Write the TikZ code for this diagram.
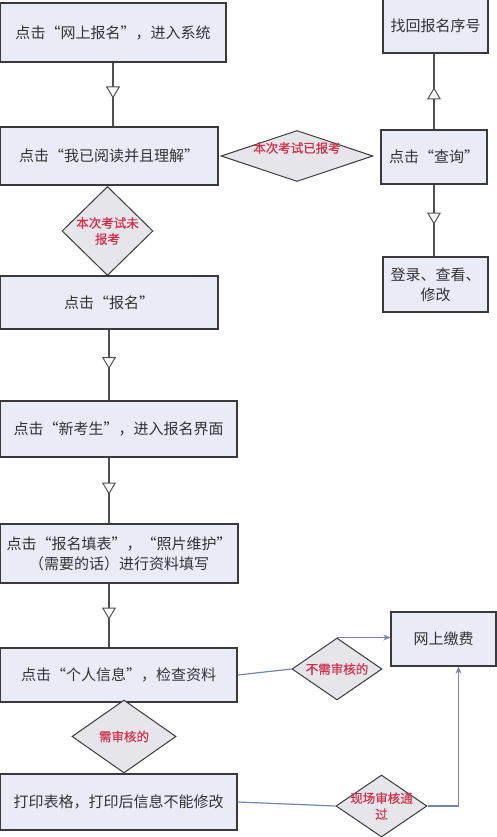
\documentclass[tikz,border=0pt]{standalone}
\usepackage{fontspec}
\newfontfamily\cjk{Noto Sans CJK SC}
\newfontfamily\cjkmark[FakeBold=0.6]{Noto Sans CJK SC}
\usepackage{tikz}
\usetikzlibrary{shapes.geometric}
\usetikzlibrary{arrows.meta, decorations.markings}
\definecolor{boxfill}{HTML}{E9ECF6}
\definecolor{boxline}{HTML}{3A3A3A}
\definecolor{diamfill}{HTML}{E6E6EA}
\definecolor{choicered}{HTML}{D2304E}
\definecolor{textgray}{HTML}{333333}
\definecolor{linegray}{HTML}{505050}
\definecolor{paylink}{HTML}{7484AE}
\begin{document}
\begin{tikzpicture}[x=1pt,y=-1pt,
  stepbox/.style={rectangle,draw=boxline,fill=boxfill,line width=1.3pt,inner sep=0pt,text=textgray,align=center,font=\cjk\fontsize{15}{20}\selectfont},
  choice/.style={diamond,draw=boxline,fill=diamfill,line width=1pt,inner sep=0pt},
  choicetext/.style={text=choicered,align=center,font=\cjkmark\fontsize{12.5}{16}\selectfont},
  flow/.style={draw=linegray,line width=1.3pt,postaction={decorate},
    decoration={markings,mark=at position 0.5 with {\arrow[xshift=4pt]{Triangle[width=14pt,length=12pt,fill=white,line width=1pt]}}}},
  paid/.style={draw=paylink,line width=1.2pt,-{Stealth[length=7pt,width=6pt]}}]
\useasboundingbox (0,0) rectangle (496,837);

\node[stepbox,minimum width=226pt,minimum height=59pt] (web) at (113,32.5) {点击“网上报名”，进入系统};
\node[stepbox,minimum width=218pt,minimum height=58pt] (read) at (109,156) {点击“我已阅读并且理解”};
\node[choice,minimum width=152pt,minimum height=51pt,label={[choicetext,yshift=8pt]center:本次考试已报考}] (done) at (297,156) {};
\node[stepbox,minimum width=106pt,minimum height=54pt] (query) at (434,157) {点击“查询”};
\node[stepbox,minimum width=105pt,minimum height=54pt] (recover) at (435.5,26) {找回报名序号};
\node[stepbox,minimum width=105pt,minimum height=55pt] (login) at (435.5,284.5) {登录、查看、\\修改};
\node[choice,minimum width=91pt,minimum height=89pt,label={[choicetext]center:本次考试未\\报考}] (notyet) at (107.5,231) {};
\node[stepbox,minimum width=218pt,minimum height=53pt] (signup) at (109,302.5) {点击“报名”};
\node[stepbox,minimum width=237pt,minimum height=56pt] (newcand) at (118.5,429) {点击“新考生”，进入报名界面};
\node[stepbox,minimum width=238pt,minimum height=59pt] (form) at (119,553.5) {点击“报名填表”，“照片维护”\\（需要的话）进行资料填写};
\node[stepbox,minimum width=237pt,minimum height=54pt] (info) at (118.5,675) {点击“个人信息”，检查资料};
\node[choice,minimum width=104pt,minimum height=73pt,label={[choicetext]center:需审核的}] (audit) at (124,736.5) {};
\node[stepbox,minimum width=237pt,minimum height=56pt] (print) at (118.5,802) {打印表格，打印后信息不能修改};
\node[choice,minimum width=90pt,minimum height=62pt,label={[choicetext]center:不需审核的}] (noaudit) at (337,669) {};
\node[stepbox,minimum width=105pt,minimum height=54pt] (pay) at (443.5,639) {网上缴费};
\node[choice,minimum width=91pt,minimum height=62pt,label={[choicetext]center:现场审核通\\过}] (passed) at (381.5,806) {};

\draw[flow] (web.south) -- (web.south |- read.north);
\draw[flow] (signup.south) -- (signup.south |- newcand.north);
\draw[flow] (newcand.south -| signup.south) -- (form.north -| signup.south);
\draw[flow] (form.south -| signup.south) -- (info.north -| signup.south);
\draw[flow] (query.north) -- (query.north |- recover.south);
\draw[flow] (query.south) -- (query.south |- login.north);

\draw[draw=paylink,line width=1.2pt] (info.east) -- (noaudit.west);
\draw[paid] (noaudit.north) -- (noaudit.north -| pay.west);
\draw[draw=paylink,line width=1.2pt] (print.east) -- (passed.west);
\draw[paid] (passed.east) -| ([xshift=15pt]pay.south);
\end{tikzpicture}
\end{document}
